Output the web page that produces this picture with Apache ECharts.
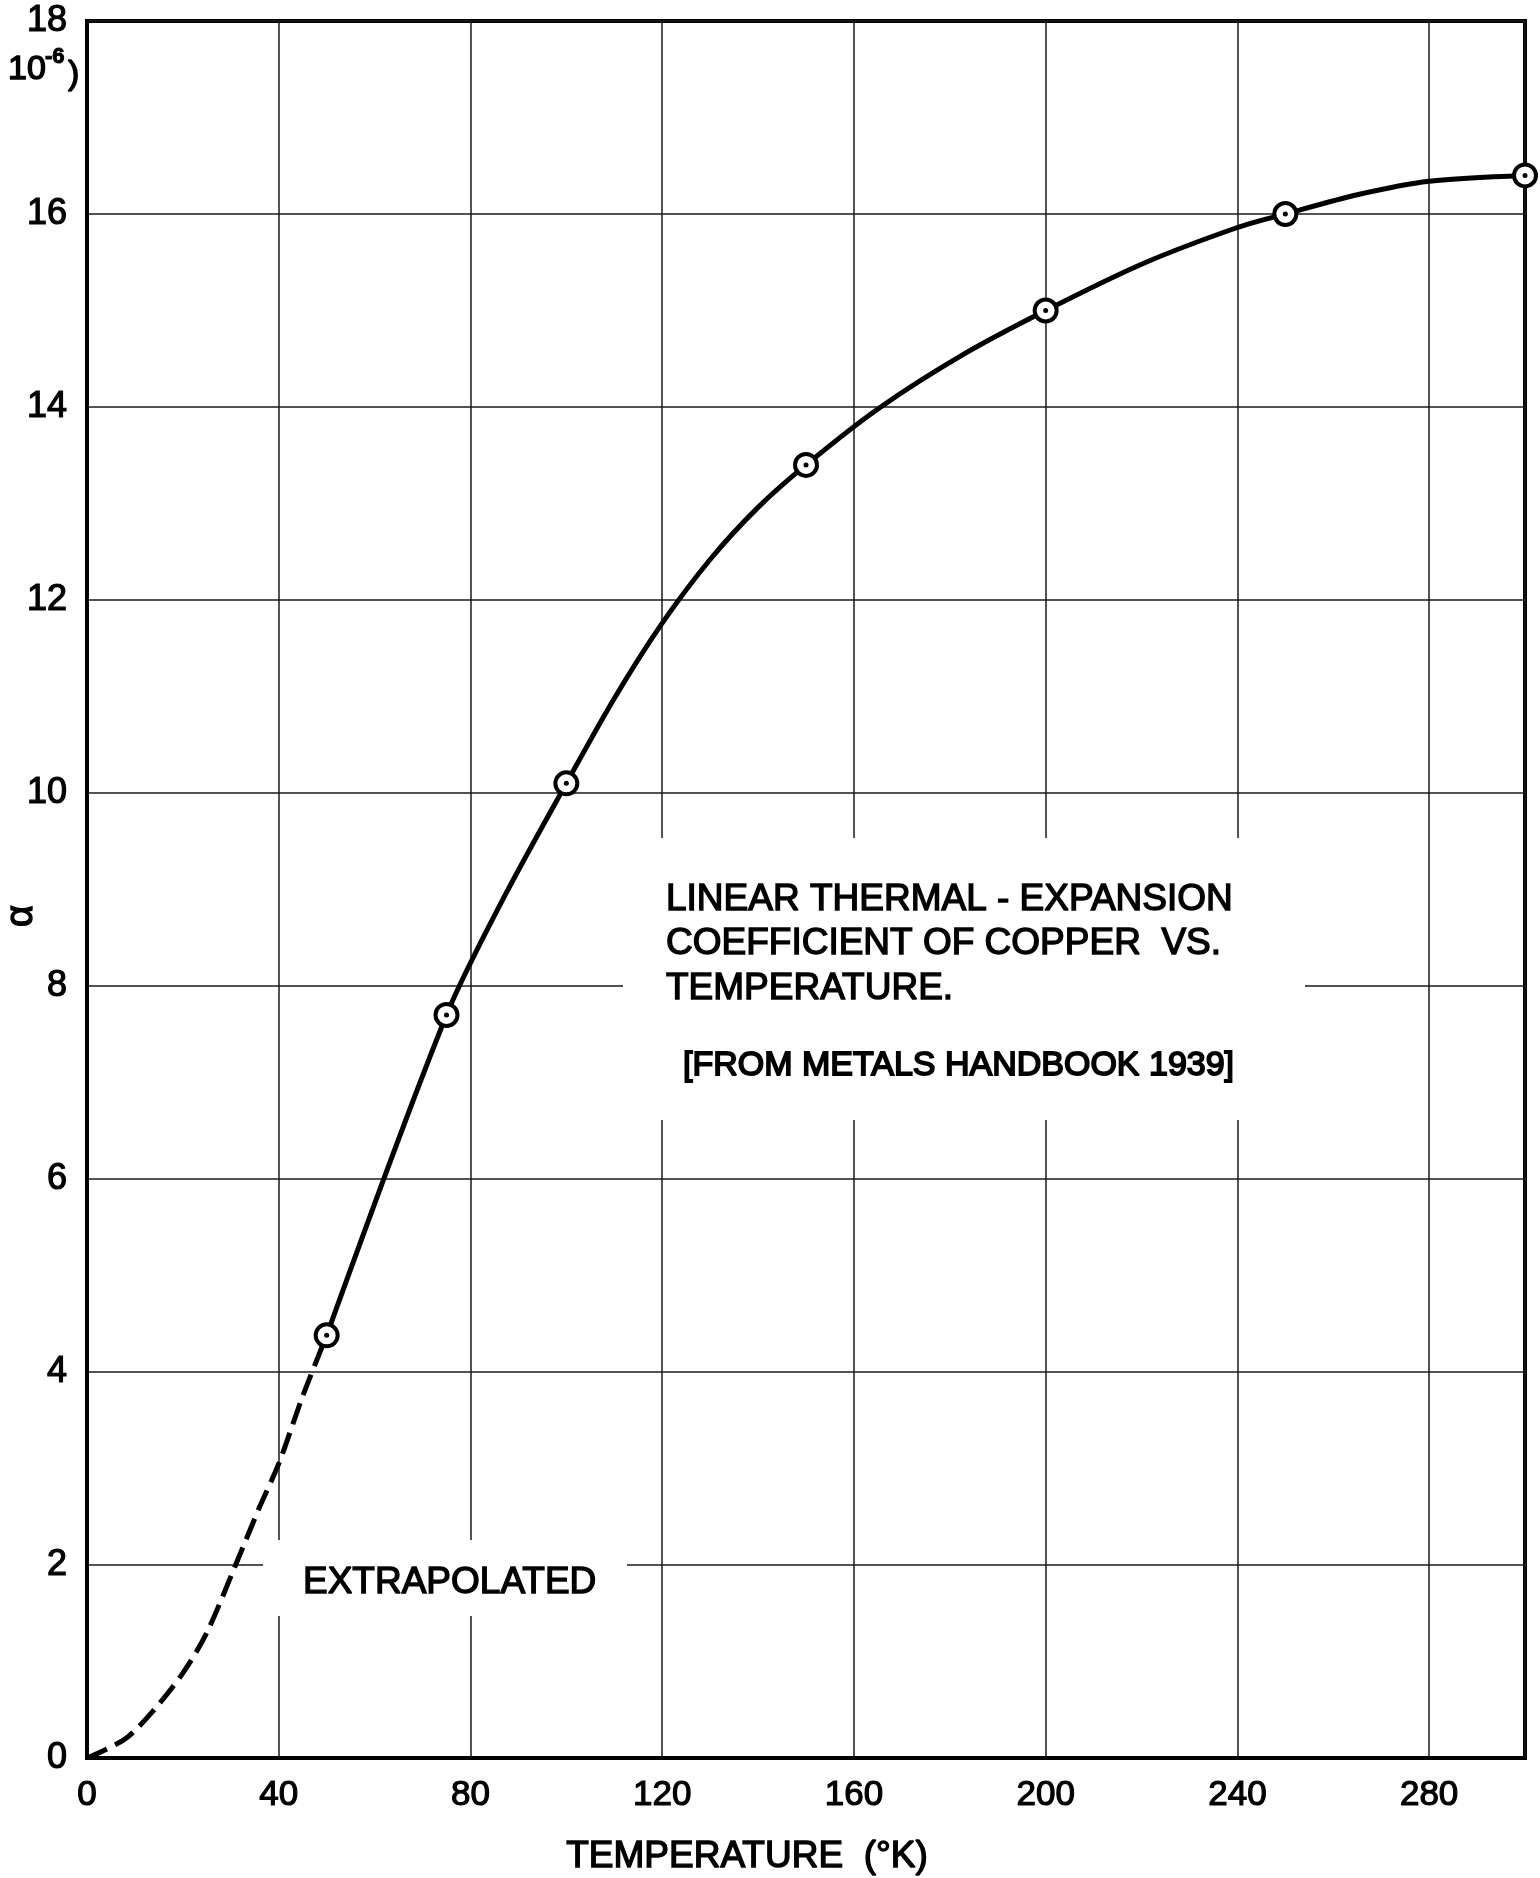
<!DOCTYPE html>
<html>
<head>
<meta charset="utf-8">
<title>Linear thermal-expansion coefficient of copper</title>
<script src="https://cdn.jsdelivr.net/npm/echarts@6/dist/echarts.min.js"></script>
<style>
  html, body { margin: 0; padding: 0; background: #fff; }
  #chart { width: 1540px; height: 1878px; }
</style>
</head>
<body>
<div id="chart"></div>
<script>
// Temperature (°K) axis ticks and coefficient (10^-6 per degree) axis ticks
const xTicks = [0, 40, 80, 120, 160, 200, 240, 280];
const yTicks = [0, 2, 4, 6, 8, 10, 12, 14, 16, 18];

// Handbook values (circled points)
const measuredT = [50, 75, 100, 150, 200, 250, 300];
const measuredAlpha = [4.38, 7.7, 10.1, 13.4, 15.0, 16.0, 16.4];

// Faired curve through the handbook values
const curveT = [50, 75, 87, 100, 110, 120, 130, 140, 150, 165, 183, 200, 220, 240, 250, 265, 280, 300];
const curveAlpha = [4.38, 7.7, 8.92, 10.1, 10.98, 11.76, 12.42, 12.96, 13.4, 13.98, 14.55, 15.0, 15.48, 15.86, 16.0, 16.2, 16.34, 16.4];

// Extrapolated portion down to absolute zero (dashed)
const extrapT = [0, 8, 14, 20, 25, 31, 36, 40, 45, 50];
const extrapAlpha = [0, 0.2, 0.5, 0.88, 1.3, 2.0, 2.6, 3.05, 3.75, 4.38];

const pairs = (xs, ys) => xs.map((x, i) => [x, ys[i]]);

const FONT = '"Liberation Sans", Arial, sans-serif';
const INK = '#000';

const chart = echarts.init(document.getElementById('chart'), null, { renderer: 'canvas' });

const GRID = { left: 87, top: 21, right: 15, bottom: 120 };

const letter = (x, y, text, size, extra) => Object.assign({
  type: 'text', z: 6, x: x, y: y,
  style: Object.assign({
    text: text, font: size + 'px ' + FONT, fill: INK,
    textVerticalAlign: 'middle', stroke: INK, lineWidth: 1.4
  }, extra || {})
});

const option = {
  backgroundColor: '#fff',
  animation: false,
  grid: {
    left: GRID.left, top: GRID.top, right: GRID.right, bottom: GRID.bottom,
    containLabel: false,
    outerBoundsMode: 'none',
    show: true,
    borderColor: INK,
    borderWidth: 4,
    backgroundColor: 'transparent'
  },
  xAxis: {
    type: 'value',
    min: 0,
    max: 300,
    interval: 40,
    axisLine: { show: true, lineStyle: { color: INK, width: 4 } },
    axisTick: { show: false },
    axisLabel: {
      color: INK, fontFamily: FONT, fontSize: 35, margin: 20,
      textBorderColor: INK, textBorderWidth: 1.2,
      showMaxLabel: false,
      formatter: v => (xTicks.indexOf(v) >= 0 ? String(v) : '')
    },
    splitLine: { show: true, lineStyle: { color: '#1a1a1a', width: 1.5 } }
  },
  yAxis: {
    type: 'value',
    min: 0,
    max: 18,
    interval: 2,
    axisLine: { show: true, lineStyle: { color: INK, width: 4 } },
    axisTick: { show: false },
    axisLabel: {
      color: INK, fontFamily: FONT, fontSize: 36, margin: 20,
      textBorderColor: INK, textBorderWidth: 1.2,
      formatter: v => (yTicks.indexOf(v) >= 0 ? String(v) : '')
    },
    splitLine: { show: true, lineStyle: { color: '#1a1a1a', width: 1.5 } }
  },
  series: [
    {
      name: 'extrapolated',
      type: 'line',
      data: pairs(extrapT, extrapAlpha),
      smooth: 0.3,
      showSymbol: false,
      symbol: 'none',
      lineStyle: { color: INK, width: 5, type: [22, 9], cap: 'butt' },
      z: 3
    },
    {
      name: 'curve',
      type: 'line',
      data: pairs(curveT, curveAlpha),
      smooth: 0.3,
      showSymbol: false,
      symbol: 'none',
      lineStyle: { color: INK, width: 5, cap: 'round', join: 'round' },
      z: 3
    },
    {
      name: 'measured',
      type: 'scatter',
      data: pairs(measuredT, measuredAlpha),
      symbol: 'circle',
      symbolSize: 22,
      itemStyle: { color: '#fff', borderColor: INK, borderWidth: 4, opacity: 1 },
      z: 4
    },
    {
      name: 'measured-centre',
      type: 'scatter',
      data: pairs(measuredT, measuredAlpha),
      symbol: 'circle',
      symbolSize: 5,
      itemStyle: { color: INK, opacity: 1 },
      z: 5
    }
  ],
  graphic: [
    // white panels that interrupt the grid behind the lettering
    { type: 'rect', z: 1, shape: { x: 623, y: 838, width: 682, height: 282 }, style: { fill: '#fff' } },
    { type: 'rect', z: 1, shape: { x: 263, y: 1540, width: 364, height: 76 }, style: { fill: '#fff' } },

    letter(666, 900, 'LINEAR THERMAL - EXPANSION', 37),
    letter(666, 944, 'COEFFICIENT OF COPPER  VS.', 37),
    letter(666, 989, 'TEMPERATURE.', 37),
    letter(683, 1066, '[FROM METALS HANDBOOK 1939]', 34, { lineWidth: 1.8 }),

    letter(303, 1583, 'EXTRAPOLATED', 37),

    letter(747, 1857, 'TEMPERATURE  (°K)', 37, { textAlign: 'center' }),

    // y-axis quantity and its scale factor
    { type: 'text', z: 6, x: 22, y: 916, rotation: Math.PI / 2,
      style: { text: 'α', font: '38px ' + FONT, fill: INK, textAlign: 'center', textVerticalAlign: 'middle', stroke: INK, lineWidth: 1.4 } },
    letter(8, 70, '10', 34),
    letter(45, 57, '-6', 22, { font: 'bold 22px ' + FONT, lineWidth: 1 }),
    letter(68, 75, ')', 34)
  ]
};

chart.setOption(option);
</script>
</body>
</html>
